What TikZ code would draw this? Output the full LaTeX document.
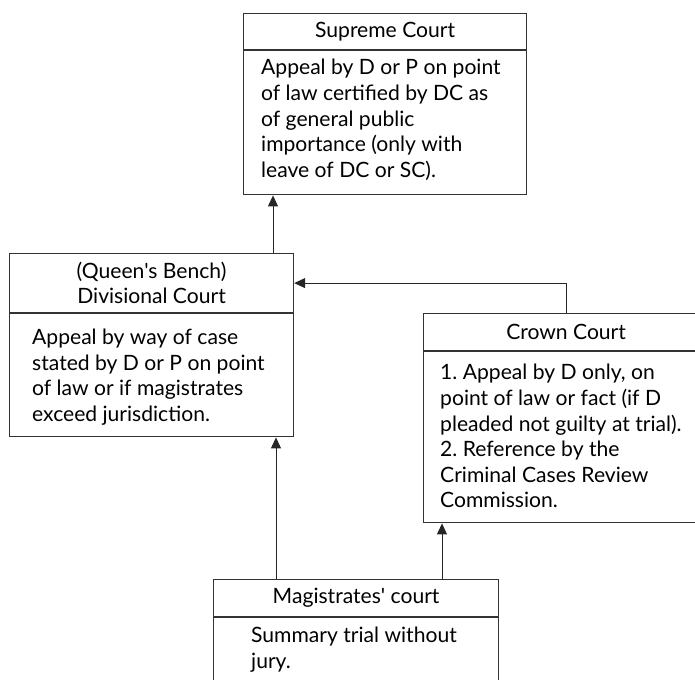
\documentclass[tikz,border=0pt]{standalone}
\usepackage{fontspec}
\setmainfont{Lato}[Ligatures=TeXOff]
\usetikzlibrary{arrows.meta,calc}
\begin{document}
\frenchspacing
\begin{tikzpicture}[x=1pt,y=-1pt,
  every node/.style={font=\fontsize{21.1}{25.6}\selectfont, text=black},
  hdr/.style={draw=black!80, line width=1.2pt, rectangle, anchor=north west, inner sep=0pt, align=center},
  bodybox/.style={draw=black!80, line width=1.2pt, rectangle, anchor=north west, inner sep=0pt},
  btext/.style={anchor=west, inner sep=0pt, align=left},
  arr/.style={draw=black!85, line width=1pt, -{Triangle[length=11pt,width=10pt]}}]
\useasboundingbox (0,0) rectangle (695,679);
% Supreme Court
\node[hdr, minimum width=283, minimum height=36] (sch) at (243,13) {Supreme Court};
\node[bodybox, minimum width=283, minimum height=144] (scb) at (sch.south west) {};
\node[btext] (sct) at ([xshift=18,yshift=3]scb.west)
  {Appeal by D or P on point\\ of law certified by DC as\\ of general public\\ importance (only with\\ leave of DC or SC).};
% Divisional Court
\node[hdr, minimum width=284, minimum height=59] (dch) at (9,253) {(Queen's Bench)\\ Divisional Court};
\node[bodybox, minimum width=284, minimum height=123] (dcb) at (dch.south west) {};
\node[btext] (dct) at ([xshift=23,yshift=-2]dcb.west)
  {Appeal by way of case\\ stated by D or P on point\\ of law or if magistrates\\ exceed jurisdiction.};
% Crown Court
\node[hdr, minimum width=285, minimum height=37] (cch) at (423,313) {Crown Court};
\node[bodybox, minimum width=285, minimum height=171] (ccb) at (cch.south west) {};
\node[btext] (cct) at ([xshift=17,yshift=1]ccb.west)
  {1. Appeal by D only, on\\ point of law or fact (if D\\ pleaded not guilty at trial).\\ 2. Reference by the\\ Criminal Cases Review\\ Commission.};
% Magistrates' court
\node[hdr, minimum width=285, minimum height=37] (mch) at (213,579) {Magistrates' court};
\node[bodybox, minimum width=285, minimum height=80] (mcb) at (mch.south west) {};
\node[btext, anchor=north west] (mct) at ([xshift=38,yshift=-10]mcb.north west)
  {Summary trial without\\ jury.};
% connectors
\coordinate (a1) at ([xshift=30]scb.south west);
\draw[arr] (dch.north -| a1) -- (a1);
\coordinate (a2) at ([xshift=143]cch.north west);
\draw[arr] (a2) |- (dch.east);
\coordinate (a3) at ([xshift=63]mch.north west);
\draw[arr] (a3) -- (dcb.south -| a3);
\coordinate (a4) at ([xshift=229]mch.north west);
\draw[arr] (a4) -- (ccb.south -| a4);
\end{tikzpicture}
\end{document}
